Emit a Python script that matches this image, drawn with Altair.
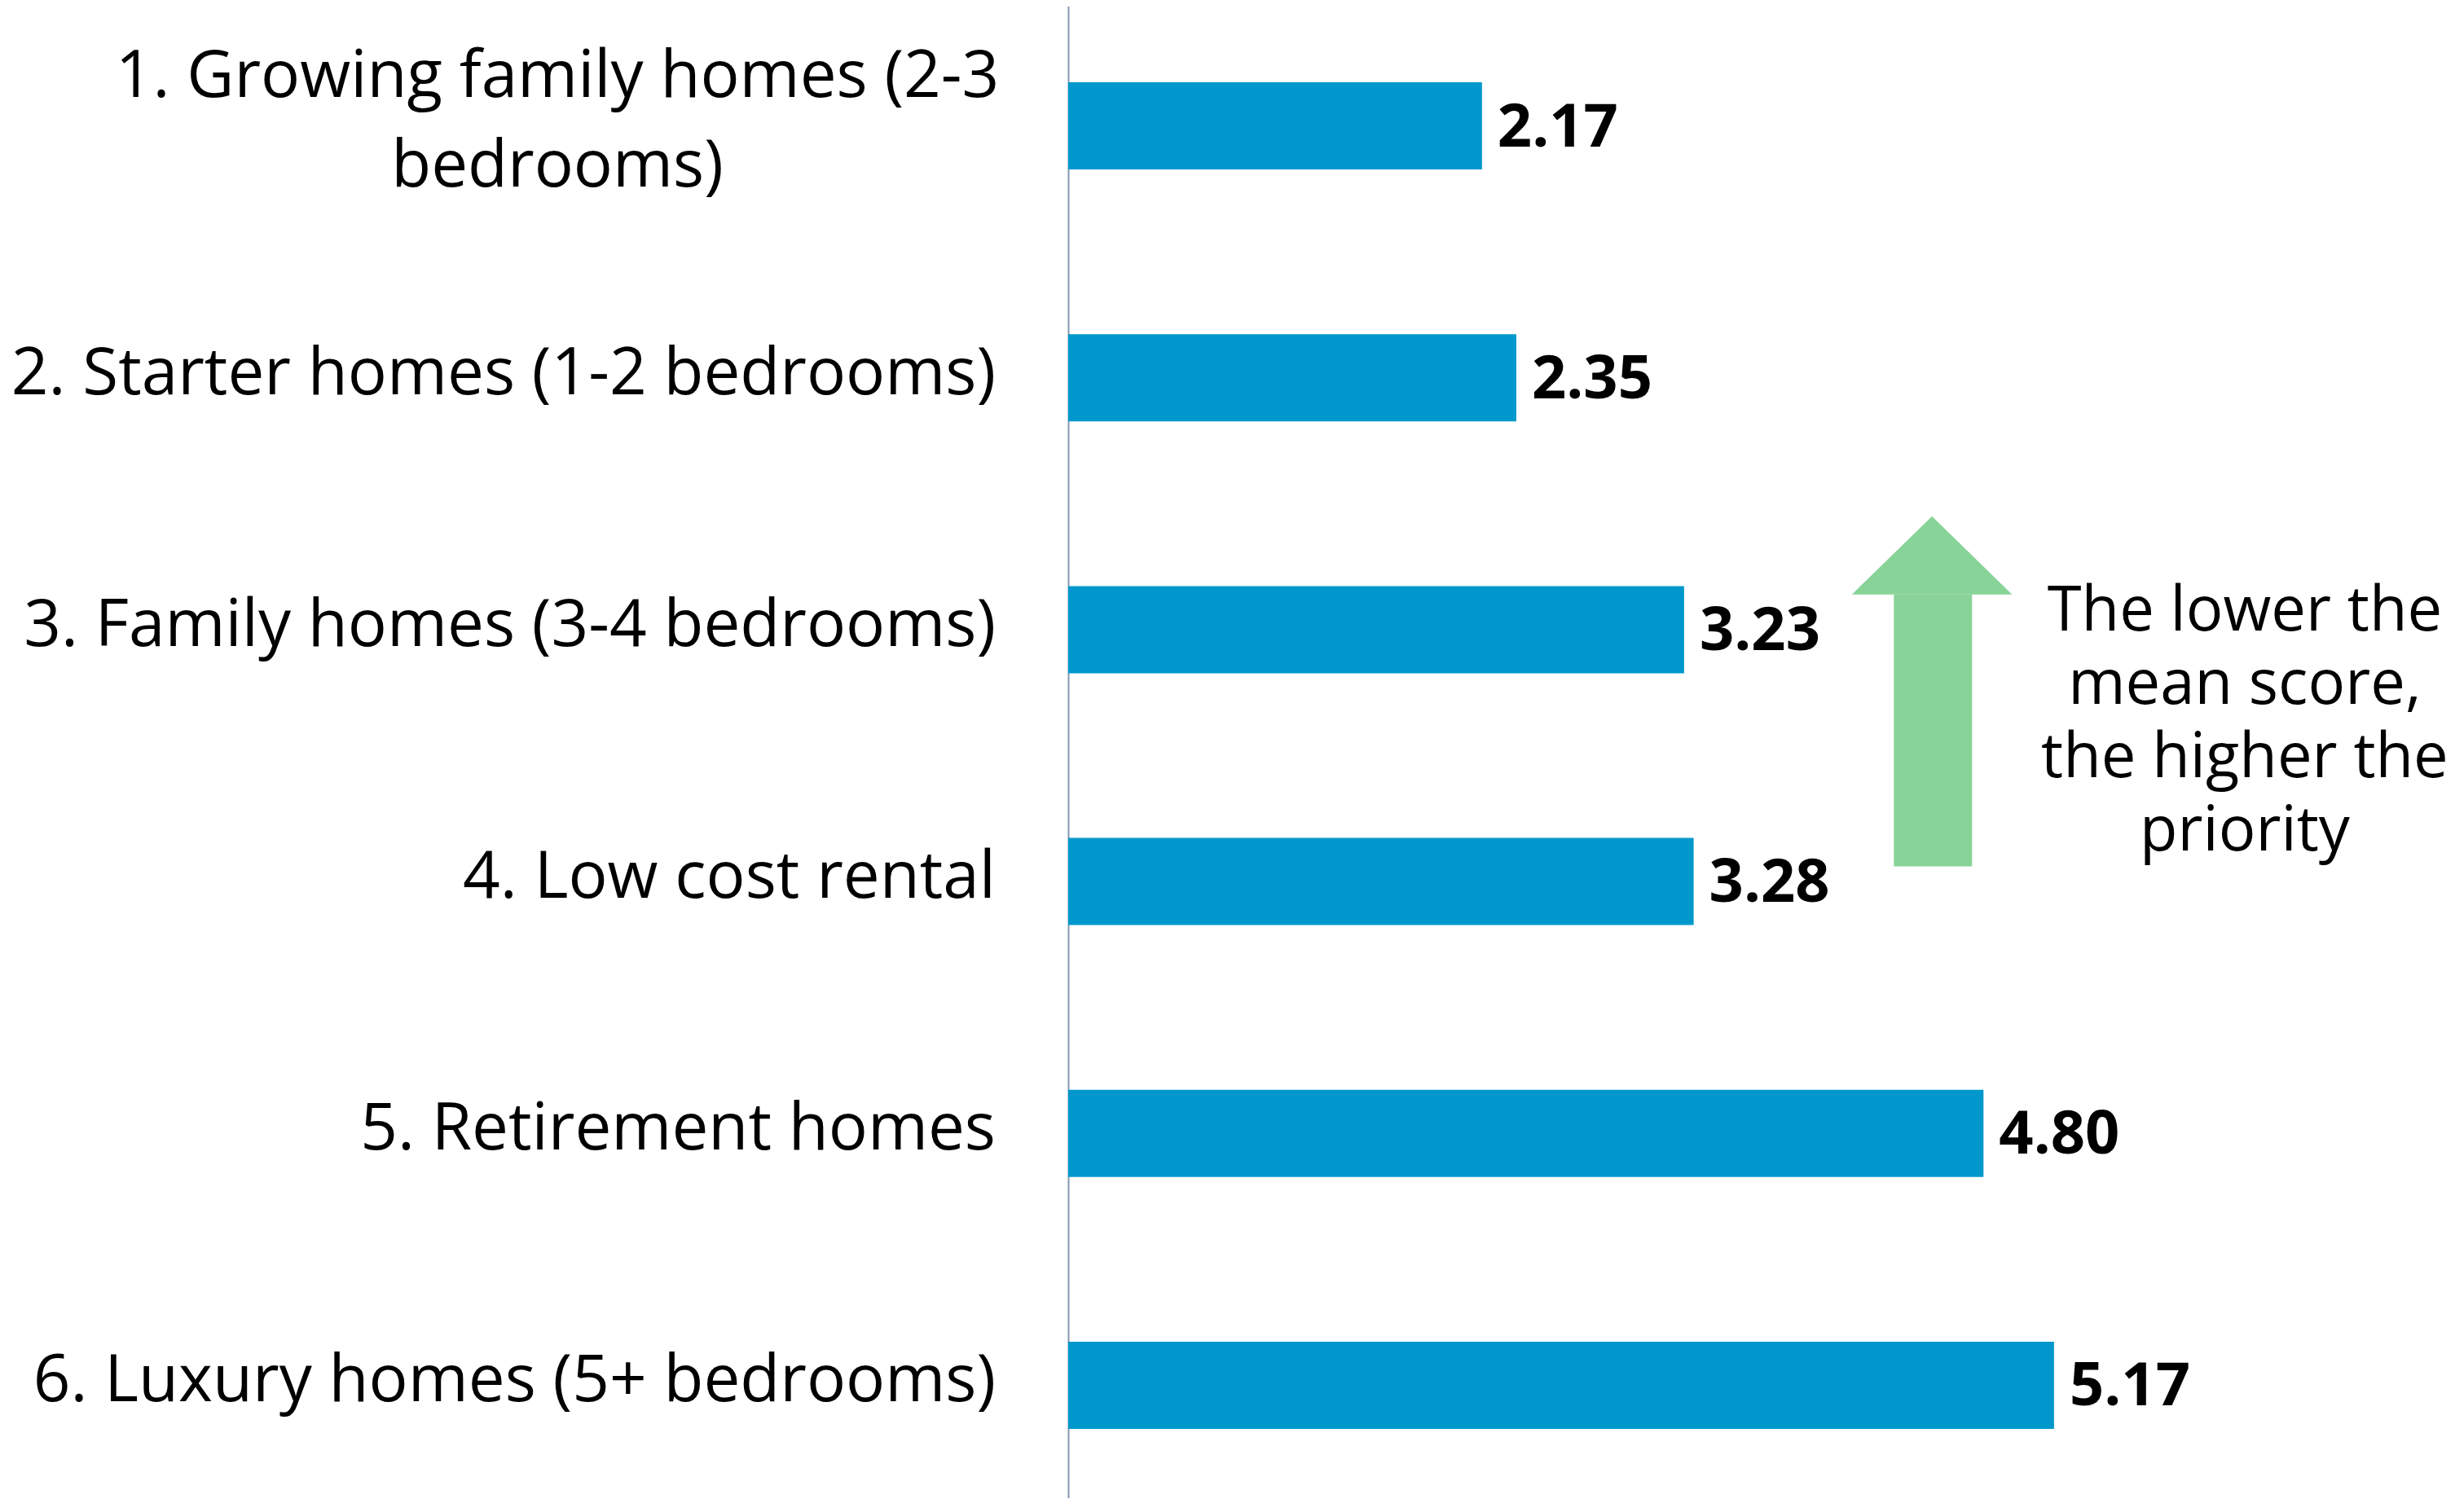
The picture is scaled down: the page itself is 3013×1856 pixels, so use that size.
import altair as alt
import pandas as pd

# ---- data ----
categories = [
    "1. Growing family homes (2-3 bedrooms)",
    "2. Starter homes (1-2 bedrooms)",
    "3. Family homes (3-4 bedrooms)",
    "4. Low cost rental",
    "5. Retirement homes",
    "6. Luxury homes (5+ bedrooms)",
]
display_labels = [
    "1. Growing family homes (2-3\nbedrooms)",
    "2. Starter homes (1-2 bedrooms)",
    "3. Family homes (3-4 bedrooms)",
    "4. Low cost rental",
    "5. Retirement homes",
    "6. Luxury homes (5+ bedrooms)",
]
ranks = [1, 2, 3, 4, 5, 6]
scores = [2.17, 2.35, 3.23, 3.28, 4.80, 5.17]

# annotation (x in score units, y in band-rank units from top)
head_x = [4.11, 4.53, 4.95]
head_y = [2.36, 2.05, 2.36]
head_base = [2.36, 2.36, 2.36]
shaft_x = [4.33]
shaft_x2 = [4.74]
shaft_y = [2.36]
shaft_y2 = [3.44]
note_text = ["The lower the\nmean score,\nthe higher the\npriority"]
note_x = [6.17]
note_y = [2.43]

FONT = "Open Sans"
BAR = "#0098CC"
ARROW = "#88D398"
AXIS = "#8497B0"
LABEL_SIZE = 80
NOTE_SIZE = 76

df = pd.DataFrame({"cat": categories, "label": display_labels, "rank": ranks, "score": scores})
head_df = pd.DataFrame({"x": head_x, "y": head_y, "y2": head_base})
shaft_df = pd.DataFrame({"x": shaft_x, "x2": shaft_x2, "y": shaft_y, "y2": shaft_y2})
note_df = pd.DataFrame({"x": note_x, "y": note_y, "t": note_text})

W, H = 1692, 1855
xscale = alt.Scale(domain=[0, 7.23], nice=False, zero=True)
yband = alt.Scale(domain=categories, paddingInner=0.654, paddingOuter=0.327)

base = alt.Chart(df)

bars = base.mark_bar(color=BAR).encode(
    x=alt.X("score:Q", scale=xscale, axis=None),
    y=alt.Y("cat:N", scale=yband, sort=categories,
            axis=alt.Axis(labels=False, ticks=False, domain=True, domainColor=AXIS,
                          domainWidth=2, title=None, grid=False)),
)

values = base.mark_text(align="left", baseline="middle", dx=19, dy=3, font=FONT,
                        fontSize=74, fontWeight="bold", color="#000000").encode(
    x=alt.X("score:Q", scale=xscale, axis=None),
    y=alt.Y("cat:N", sort=categories),
    text=alt.Text("score:Q", format=".2f"),
)

labels_right = base.transform_filter("datum.rank != 1").mark_text(
    align="right", baseline="middle", dy=-4, font=FONT, fontSize=LABEL_SIZE, color="#000000"
).encode(
    x=alt.value(-89),
    y=alt.Y("cat:N", sort=categories),
    text="label:N",
)

labels_center = base.transform_filter("datum.rank == 1").mark_text(
    align="center", baseline="middle", dy=-60, font=FONT, fontSize=LABEL_SIZE, color="#000000",
    lineBreak="\n", lineHeight=110
).encode(
    x=alt.value(-627),
    y=alt.Y("cat:N", sort=categories),
    text="label:N",
)

yq = alt.Scale(domain=[0, 6], reverse=True, nice=False, zero=False)

head = alt.Chart(head_df).mark_area(color=ARROW, opacity=1).encode(
    x=alt.X("x:Q", scale=xscale, axis=None),
    y=alt.Y("y:Q", scale=yq, axis=None),
    y2="y2:Q",
)
shaft = alt.Chart(shaft_df).mark_rect(color=ARROW).encode(
    x=alt.X("x:Q", scale=xscale, axis=None),
    x2="x2:Q",
    y=alt.Y("y:Q", scale=yq, axis=None),
    y2="y2:Q",
)
note = alt.Chart(note_df).mark_text(
    align="center", baseline="middle", font=FONT, fontSize=NOTE_SIZE, color="#000000",
    lineBreak="\n", lineHeight=90
).encode(
    x=alt.X("x:Q", scale=xscale, axis=None),
    y=alt.Y("y:Q", scale=yq, axis=None),
    text="t:N",
)

main = alt.layer(bars, values, labels_right, labels_center)
annot = alt.layer(head, shaft, note)

chart = alt.layer(main, annot).resolve_scale(y="independent").properties(
    width=W, height=H,
    autosize=alt.AutoSizeParams(type="none"),
    padding={"left": 1303, "right": 0, "top": -8, "bottom": -16},
    background="#ffffff",
).configure_view(stroke=None)

chart.save("out.html", embed_options={"renderer": "svg", "actions": False})
